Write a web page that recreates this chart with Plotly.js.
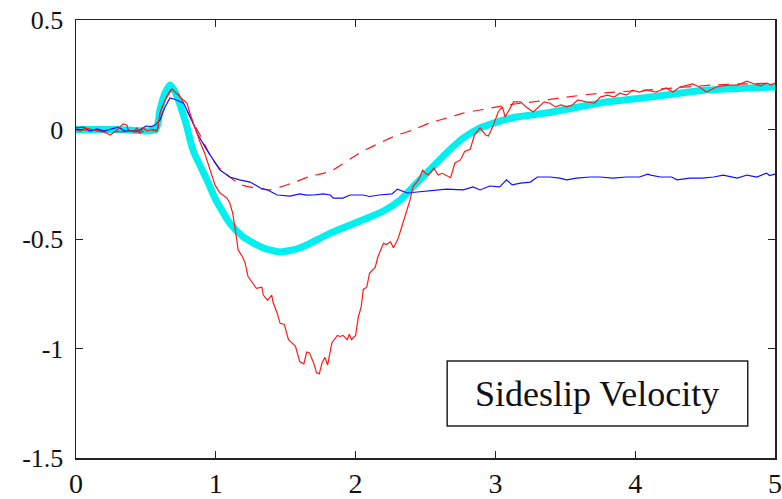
<!DOCTYPE html>
<html>
<head>
<meta charset="utf-8">
<script src="https://cdn.plot.ly/plotly-3.0.1.min.js"></script>
<style>
  html, body { margin: 0; padding: 0; background: #fff; }
  #plot { width: 782px; height: 499px; }
</style>
</head>
<body>
<div id="plot"></div>
<script>
// Time axis ticks (s)
const xTicks = [0, 1, 2, 3, 4, 5];
const yTicks = [0.5, 0, -0.5, -1, -1.5];
const yTickText = ['0.5', '0', '-0.5', '-1', '-1.5'];

// Thick cyan reference response
const cyanT = [0, 0.3, 0.57, 0.60, 0.637, 0.672, 0.71, 0.78, 0.837, 0.937, 0.994, 1.10, 1.195, 1.34, 1.46, 1.60, 1.82, 2.05, 2.20, 2.32, 2.41, 2.53, 2.65, 2.77, 2.89, 3.01, 3.15, 3.39, 3.75, 4.11, 4.51, 5.0];
const cyanV = [0, 0, 0, 0.089, 0.166, 0.203, 0.17, 0.043, -0.094, -0.23, -0.313, -0.428, -0.49, -0.541, -0.559, -0.541, -0.473, -0.413, -0.372, -0.322, -0.262, -0.185, -0.107, -0.039, 0.007, 0.034, 0.057, 0.078, 0.121, 0.148, 0.18, 0.194];

// Measured red response (solid)
const redT = [0, 0.03, 0.064, 0.11, 0.17, 0.22, 0.243, 0.28, 0.315, 0.336, 0.365, 0.372, 0.41, 0.436, 0.458, 0.48, 0.51, 0.55, 0.58, 0.60, 0.637, 0.687, 0.744, 0.794, 0.815, 0.85, 0.887, 0.92, 0.958, 0.994, 1.03, 1.08, 1.10, 1.12, 1.14, 1.16, 1.19, 1.21, 1.23, 1.26, 1.29, 1.33, 1.34, 1.37, 1.40, 1.41, 1.44, 1.46, 1.49, 1.52, 1.57, 1.60, 1.63, 1.65, 1.67, 1.70, 1.72, 1.74, 1.76, 1.78, 1.80, 1.83, 1.87, 1.89, 1.91, 1.94, 1.955, 1.97, 2.0, 2.02, 2.04, 2.055, 2.08, 2.10, 2.14, 2.16, 2.20, 2.22, 2.25, 2.27, 2.30, 2.33, 2.37, 2.39, 2.41, 2.45, 2.48, 2.50, 2.52, 2.56, 2.59, 2.62, 2.68, 2.71, 2.75, 2.78, 2.82, 2.85, 2.89, 2.93, 2.95, 2.98, 3.02, 3.05, 3.07, 3.10, 3.13, 3.18, 3.22, 3.27, 3.31, 3.35, 3.39, 3.43, 3.47, 3.51, 3.55, 3.59, 3.65, 3.71, 3.75, 3.80, 3.85, 3.89, 3.94, 3.98, 4.03, 4.08, 4.15, 4.22, 4.27, 4.32, 4.41, 4.46, 4.51, 4.58, 4.66, 4.73, 4.80, 4.85, 4.90, 4.94, 4.97, 5.0];
const redV = [0, -0.008, 0.007, 0, -0.01, -0.016, -0.025, -0.01, 0.011, 0.025, 0.02, 0, -0.01, 0.007, -0.016, 0.007, -0.007, 0, -0.01, 0.075, 0.135, 0.185, 0.149, 0.12, 0.075, 0.007, -0.057, -0.107, -0.185, -0.253, -0.29, -0.313, -0.336, -0.38, -0.46, -0.55, -0.58, -0.61, -0.67, -0.70, -0.725, -0.72, -0.756, -0.78, -0.756, -0.79, -0.84, -0.885, -0.89, -0.96, -0.99, -1.06, -1.07, -1.016, -1.02, -1.066, -1.11, -1.116, -1.066, -1.04, -1.075, -0.975, -0.94, -0.945, -0.94, -0.96, -0.935, -0.96, -0.94, -0.855, -0.81, -0.73, -0.72, -0.655, -0.63, -0.58, -0.52, -0.525, -0.513, -0.54, -0.505, -0.445, -0.368, -0.32, -0.262, -0.23, -0.185, -0.2, -0.208, -0.176, -0.208, -0.2, -0.22, -0.153, -0.139, -0.1, -0.09, -0.025, 0.007, -0.025, -0.03, 0.011, 0.08, 0.103, 0.057, 0.089, 0.126, 0.126, 0.103, 0.08, 0.103, 0.126, 0.12, 0.103, 0.112, 0.103, 0.112, 0.135, 0.126, 0.12, 0.148, 0.157, 0.148, 0.166, 0.157, 0.18, 0.171, 0.18, 0.171, 0.19, 0.171, 0.194, 0.208, 0.194, 0.171, 0.194, 0.203, 0.203, 0.221, 0.208, 0.199, 0.212, 0.203, 0.212];

// Model red response (dashed)
const redDashT = [0, 0.58, 0.60, 0.637, 0.687, 0.744, 0.815, 0.887, 0.958, 1.016, 1.10, 1.17, 1.28, 1.39, 1.46, 1.55, 1.67, 1.82, 2.03, 2.17, 2.30, 2.41, 2.53, 2.65, 2.77, 2.89, 3.01, 3.13, 3.27, 3.51, 3.75, 4.08, 4.56, 5.0];
const redDashV = [0, 0, 0.07, 0.135, 0.185, 0.15, 0.057, -0.025, -0.116, -0.17, -0.217, -0.25, -0.267, -0.276, -0.263, -0.244, -0.215, -0.19, -0.107, -0.062, -0.025, -0.002, 0.03, 0.052, 0.075, 0.089, 0.103, 0.116, 0.126, 0.148, 0.166, 0.18, 0.203, 0.212];

// Blue response
const blueT = [0, 0.05, 0.1, 0.15, 0.2, 0.25, 0.3, 0.35, 0.4, 0.45, 0.5, 0.54, 0.565, 0.60, 0.637, 0.672, 0.72, 0.77, 0.815, 0.873, 0.937, 0.98, 1.03, 1.10, 1.17, 1.245, 1.32, 1.37, 1.44, 1.53, 1.60, 1.65, 1.70, 1.77, 1.82, 1.84, 1.91, 1.96, 2.05, 2.10, 2.17, 2.26, 2.30, 2.37, 2.44, 2.53, 2.65, 2.77, 2.84, 2.89, 2.96, 3.03, 3.08, 3.12, 3.18, 3.25, 3.30, 3.39, 3.46, 3.51, 3.58, 3.68, 3.75, 3.84, 3.94, 4.03, 4.09, 4.11, 4.18, 4.26, 4.30, 4.39, 4.48, 4.56, 4.63, 4.73, 4.80, 4.87, 4.94, 4.96, 5.0];
const blueV = [0.007, 0.011, -0.007, 0.003, -0.007, 0.003, 0.011, -0.007, -0.005, -0.005, 0.016, 0.013, 0.02, 0.043, 0.103, 0.144, 0.135, 0.12, 0.06, -0.025, -0.094, -0.139, -0.185, -0.217, -0.23, -0.24, -0.267, -0.276, -0.299, -0.304, -0.294, -0.3, -0.299, -0.294, -0.299, -0.313, -0.313, -0.299, -0.299, -0.306, -0.299, -0.294, -0.272, -0.29, -0.285, -0.28, -0.272, -0.276, -0.262, -0.276, -0.258, -0.262, -0.23, -0.253, -0.245, -0.24, -0.217, -0.217, -0.222, -0.23, -0.222, -0.217, -0.217, -0.222, -0.217, -0.217, -0.204, -0.208, -0.217, -0.217, -0.23, -0.222, -0.222, -0.217, -0.208, -0.222, -0.208, -0.217, -0.199, -0.21, -0.204];

const label = 'Sideslip Velocity';
const serif = 'Liberation Serif, Times New Roman, serif';

const traces = [
  { x: cyanT, y: cyanV, mode: 'lines', line: { color: '#00f0f0', width: 7, shape: 'spline', smoothing: 0.6 }, hoverinfo: 'skip' },
  { x: redDashT, y: redDashV, mode: 'lines', line: { color: '#ff1a1a', width: 1.2, dash: '11px,8px', shape: 'spline', smoothing: 0.6 }, hoverinfo: 'skip' },
  { x: blueT, y: blueV, mode: 'lines', line: { color: '#1010ff', width: 1.2 }, hoverinfo: 'skip' },
  { x: redT, y: redV, mode: 'lines', line: { color: '#ff1a1a', width: 1.2 }, hoverinfo: 'skip' }
];

const axisCommon = {
  showgrid: false,
  zeroline: false,
  showline: true,
  linecolor: '#222',
  linewidth: 1.5,
  mirror: 'ticks',
  ticks: 'inside',
  ticklen: 7,
  tickwidth: 1,
  tickcolor: '#222',
  ticklabeloverflow: 'allow'
};

const layout = {
  width: 782,
  height: 499,
  margin: { l: 76, r: 7, t: 20, b: 41 },
  paper_bgcolor: '#fff',
  plot_bgcolor: '#fff',
  showlegend: false,
  font: { family: serif, color: '#111' },
  xaxis: Object.assign({}, axisCommon, {
    range: [0, 5],
    tickvals: xTicks,
    ticktext: xTicks.map(String),
    tickfont: { family: serif, size: 28 },
    ticklabelstandoff: 0
  }),
  yaxis: Object.assign({}, axisCommon, {
    range: [-1.5, 0.5],
    tickvals: yTicks,
    ticktext: yTickText,
    tickfont: { family: serif, size: 26 },
    ticklabelstandoff: 6
  }),
  shapes: [
    { type: 'rect', xref: 'paper', yref: 'paper', x0: 0.531, x1: 0.961, y0: 0.073, y1: 0.2215,
      line: { color: '#222', width: 1.5 }, fillcolor: '#fff', layer: 'above' }
  ],
  annotations: [
    { xref: 'paper', yref: 'paper', x: 0.746, y: 0.147, xanchor: 'center', yanchor: 'middle',
      text: label, showarrow: false, font: { family: serif, size: 36, color: '#111' } }
  ]
};

Plotly.newPlot('plot', traces, layout, { staticPlot: true, displayModeBar: false });
</script>
</body>
</html>
